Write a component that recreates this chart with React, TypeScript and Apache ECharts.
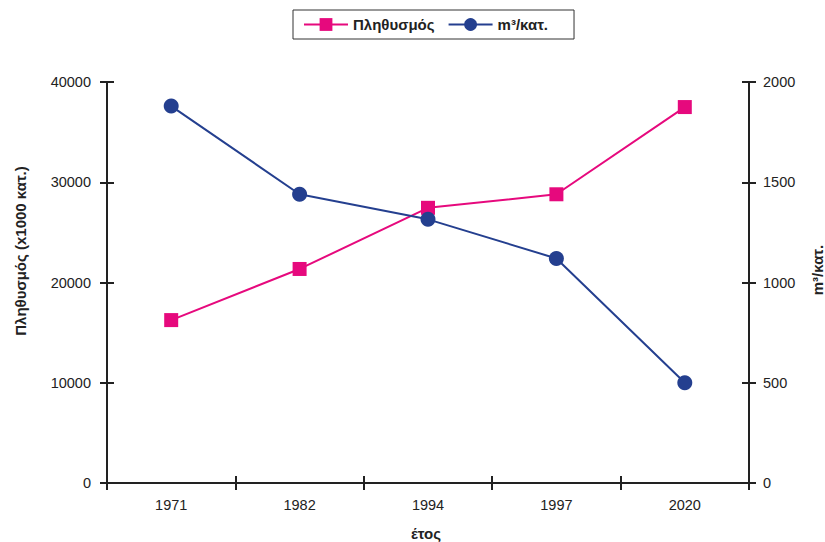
import React, { useEffect, useRef } from "react";
import * as echarts from "echarts";

const years = ["1971", "1982", "1994", "1997", "2020"];
const population = [16250, 21350, 27450, 28800, 37500];
const waterPerCapita = [1880, 1440, 1315, 1120, 500];
const leftAxisRange = [0, 40000, 10000];
const rightAxisRange = [0, 2000, 500];
const seriesNames = ["Πληθυσμός", "m³/κατ."];
const axisTitles = ["Πληθυσμός (x1000 κατ.)", "m³/κατ.", "έτος"];

const PINK = "#e6097d";
const BLUE = "#243f8f";
const INK = "#222222";
const FONT = "Liberation Sans, Arial, sans-serif";

export default function App() {
  const ref = useRef<HTMLDivElement>(null);
  useEffect(() => {
    if (!ref.current) return;
    const chart = echarts.init(ref.current, null, { renderer: "svg" });
    const axisLine = { show: true, lineStyle: { color: INK, width: 2 } };
    const tickOut = { show: true, length: 7, lineStyle: { color: INK, width: 2 } };
    const tickIn = { show: true, inside: true, length: 7, lineStyle: { color: INK, width: 2 } };
    const labelStyle = {
      color: INK,
      fontSize: 14.5,
      fontFamily: FONT,
      formatter: (v: number | string) => String(v),
    };
    const yBase = (r: number[], position: string) => ({
      type: "value",
      position,
      min: r[0],
      max: r[1],
      interval: r[2],
      splitLine: { show: false },
    });
    chart.setOption({
      animation: false,
      backgroundColor: "#ffffff",
      textStyle: { fontFamily: FONT },
      grid: { left: 107, right: 76, top: 82, bottom: 59, containLabel: false },
      legend: {
        left: 293,
        top: 10,
        orient: "horizontal",
        data: seriesNames,
        itemWidth: 44,
        itemHeight: 16,
        itemGap: 13,
        padding: [7, 26, 7, 10],
        borderColor: "#333333",
        borderWidth: 1,
        textStyle: { color: INK, fontSize: 15, fontWeight: "bold", fontFamily: FONT },
      },
      xAxis: [
        {
          type: "category",
          data: years,
          position: "bottom",
          boundaryGap: true,
          axisLine,
          axisTick: tickOut,
          axisLabel: { ...labelStyle, margin: 14 },
          splitLine: { show: false },
        },
        {
          type: "category",
          data: years,
          position: "bottom",
          boundaryGap: true,
          axisLine: { show: false },
          axisTick: tickIn,
          axisLabel: { show: false },
          splitLine: { show: false },
        },
      ],
      yAxis: [
        {
          ...yBase(leftAxisRange, "left"),
          axisLine,
          axisTick: tickOut,
          axisLabel: { ...labelStyle, margin: 16 },
        },
        {
          ...yBase(rightAxisRange, "right"),
          axisLine,
          axisTick: tickOut,
          axisLabel: { ...labelStyle, margin: 14 },
        },
        {
          ...yBase(leftAxisRange, "left"),
          axisLine: { show: false },
          axisTick: tickIn,
          axisLabel: { show: false },
        },
        {
          ...yBase(rightAxisRange, "right"),
          axisLine: { show: false },
          axisTick: tickIn,
          axisLabel: { show: false },
        },
      ],
      series: [
        {
          name: seriesNames[0],
          type: "line",
          data: population,
          xAxisIndex: 0,
          yAxisIndex: 0,
          symbol: "rect",
          symbolSize: 14,
          lineStyle: { color: PINK, width: 2 },
          itemStyle: { color: PINK },
          z: 3,
        },
        {
          name: seriesNames[1],
          type: "line",
          data: waterPerCapita,
          xAxisIndex: 0,
          yAxisIndex: 1,
          symbol: "circle",
          symbolSize: 15,
          lineStyle: { color: BLUE, width: 2 },
          itemStyle: { color: BLUE },
          z: 4,
        },
      ],
      graphic: [
        {
          type: "text",
          x: 20,
          y: 251,
          rotation: Math.PI / 2,
          style: {
            text: axisTitles[0],
            fill: INK,
            font: `bold 15px ${FONT}`,
            textAlign: "center",
            textVerticalAlign: "middle",
          },
        },
        {
          type: "text",
          x: 817,
          y: 270,
          rotation: Math.PI / 2,
          style: {
            text: axisTitles[1],
            fill: INK,
            font: `bold 15px ${FONT}`,
            textAlign: "center",
            textVerticalAlign: "middle",
          },
        },
        {
          type: "text",
          x: 426,
          y: 533,
          style: {
            text: axisTitles[2],
            fill: INK,
            font: `bold 15px ${FONT}`,
            textAlign: "center",
            textVerticalAlign: "middle",
          },
        },
      ],
    });
    return () => chart.dispose();
  }, []);
  return <div ref={ref} style={{ width: 825, height: 542, position: "absolute", left: 0, top: 0 }} />;
}
